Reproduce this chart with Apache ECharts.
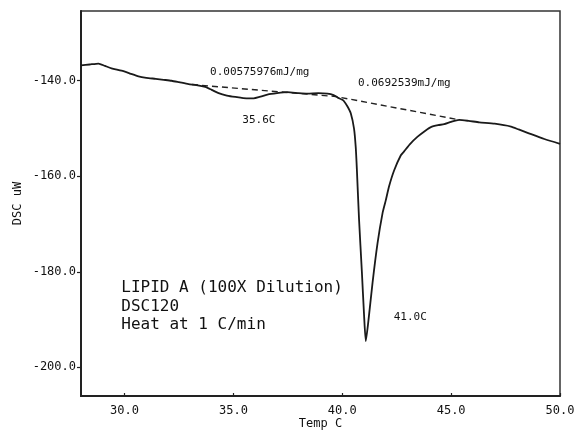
<!DOCTYPE html>
<html>
<head>
<meta charset="utf-8">
<script src="https://cdn.jsdelivr.net/npm/echarts@6/dist/echarts.min.js"></script>
<style>
  html, body { margin: 0; padding: 0; background: #fff; }
  #chart { width: 575px; height: 430px; }
</style>
</head>
<body>
<div id="chart"></div>
<script>
// DSC trace: temperature (C) and heat flow (uW)
const temp = [28.0, 28.4, 28.8, 29.1, 29.4, 29.86, 30.2, 30.64, 31.0, 31.43, 31.8, 32.16, 32.5, 32.94, 33.3, 33.71,
  34.0, 34.32, 34.7, 35.09, 35.6, 35.93, 36.2, 36.56, 37.0, 37.48, 38.0, 38.4, 38.9, 39.32, 39.6, 39.78,
  40.0, 40.08, 40.24, 40.39, 40.54, 40.62, 40.67, 40.77, 40.9, 41.0, 41.08, 41.19, 41.39, 41.62, 41.85,
  42.0, 42.15, 42.38, 42.69, 42.84, 43.1, 43.46, 43.8, 44.07, 44.4, 44.68, 45.0, 45.37, 45.8, 46.29,
  47.0, 47.75, 48.1, 48.51, 49.28, 50.0];
const dsc = [-136.8, -136.6, -136.4, -136.9, -137.4, -137.9, -138.4, -139.1, -139.4, -139.6, -139.8, -140.0, -140.3, -140.7, -140.9, -141.3,
  -141.9, -142.6, -143.1, -143.4, -143.7, -143.7, -143.4, -142.9, -142.6, -142.4, -142.6, -142.7, -142.6, -142.7, -143.0, -143.5,
  -144.0, -144.3, -145.4, -146.8, -150.0, -154.0, -158.5, -169.0, -180.0, -189.0, -194.5, -190.7, -182.3, -174.0, -167.7,
  -165.0, -162.1, -158.8, -155.6, -154.8, -153.3, -151.7, -150.5, -149.7, -149.3, -149.1, -148.6, -148.2, -148.4, -148.7,
  -149.0, -149.6, -150.2, -150.9, -152.2, -153.2];

// Integration baselines (dashed)
const baseTemp = [33.1, 39.7, 45.4];
const baseDsc = [-140.8, -143.3, -148.2];

// Tick labels
const xTicks = [30, 35, 40, 45, 50];
const yTicks = [-200, -180, -160, -140];

// Annotations: [temp, dsc, text]
const centeredNotes = [
  [36.21, -138.2, '0.00575976mJ/mg'],
  [42.85, -140.5, '0.0692539mJ/mg'],
  [36.17, -148.2, '35.6C'],
  [43.12, -189.4, '41.0C']
];
const blockNotes = [
  [29.85, -183.4, 'LIPID A (100X Dilution)'],
  [29.85, -187.35, 'DSC120'],
  [29.85, -191.05, 'Heat at 1 C/min']
];

const FONT = 'DejaVu Sans Mono';
const INK = '#111';

const chart = echarts.init(document.getElementById('chart'), null, { renderer: 'canvas' });
chart.setOption({
  animation: false,
  backgroundColor: '#fff',
  grid: {
    left: 81, right: 15, top: 11, bottom: 34,
    outerBoundsMode: 'none',
    show: true, borderColor: '#333', borderWidth: 1.5, backgroundColor: 'transparent'
  },
  xAxis: {
    type: 'value', min: 28, max: 50,
    name: 'Temp C', nameLocation: 'middle', nameGap: 22, nameMoveOverlap: false,
    nameTextStyle: { fontFamily: FONT, fontSize: 12, color: INK },
    axisLine: { show: true, onZero: false, lineStyle: { color: '#222', width: 2 } },
    axisTick: { show: true, inside: true, length: 3, customValues: xTicks, lineStyle: { color: '#222', width: 1.2 } },
    axisLabel: { customValues: xTicks, margin: 9, fontFamily: FONT, fontSize: 12, color: INK,
      formatter: v => v.toFixed(1) },
    splitLine: { show: false }
  },
  yAxis: {
    type: 'value', min: -206, max: -125.4,
    name: 'DSC uW', nameLocation: 'middle', nameRotate: 90, nameGap: 57, nameMoveOverlap: false,
    nameTextStyle: { fontFamily: FONT, fontSize: 12, color: INK },
    axisLine: { show: true, onZero: false, lineStyle: { color: '#222', width: 2 } },
    axisTick: { show: true, inside: false, length: 4, customValues: yTicks, lineStyle: { color: '#222', width: 1.2 } },
    axisLabel: { customValues: yTicks, margin: 5, fontFamily: FONT, fontSize: 12, color: INK,
      formatter: v => v.toFixed(1) },
    splitLine: { show: false }
  },
  series: [
    {
      type: 'line', name: 'DSC',
      data: temp.map((t, i) => [t, dsc[i]]),
      showSymbol: false, smooth: 0.2,
      lineStyle: { color: '#1a1a1a', width: 1.8 },
      silent: true, z: 3
    },
    {
      type: 'line', name: 'Baseline',
      data: baseTemp.map((t, i) => [t, baseDsc[i]]),
      showSymbol: false,
      lineStyle: { color: '#222', width: 1.4, type: [6, 4] },
      silent: true, z: 2
    },
    {
      type: 'scatter', name: 'notes',
      data: centeredNotes.map(n => ({ value: [n[0], n[1]], label: { formatter: n[2] } })),
      symbolSize: 1, itemStyle: { color: 'rgba(0,0,0,0)', opacity: 1 },
      label: { show: true, position: 'inside', fontFamily: FONT, fontSize: 11, color: INK, opacity: 1 },
      silent: true, z: 4
    },
    {
      type: 'scatter', name: 'block',
      data: blockNotes.map(n => ({ value: [n[0], n[1]], label: { formatter: n[2] } })),
      symbolSize: 0, itemStyle: { color: 'rgba(0,0,0,0)', opacity: 1 },
      label: { show: true, position: 'right', distance: 0, fontFamily: FONT, fontSize: 16, color: INK, opacity: 1 },
      silent: true, z: 4
    }
  ]
});
</script>
</body>
</html>
